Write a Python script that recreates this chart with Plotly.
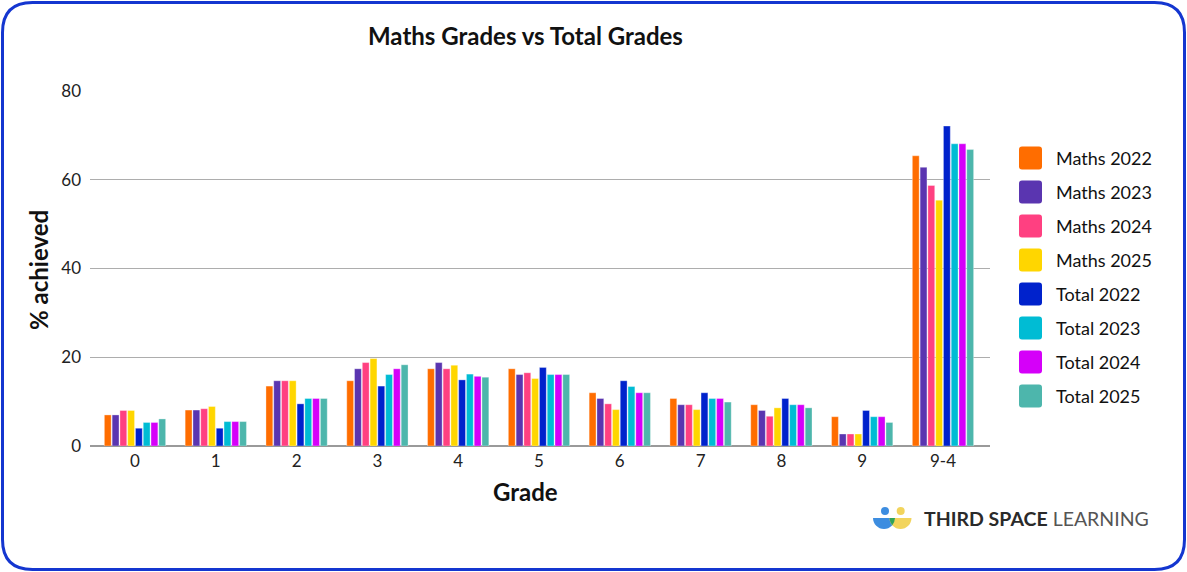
import plotly.graph_objects as go

W, H = 1187, 572

grades = ["0", "1", "2", "3", "4", "5", "6", "7", "8", "9", "9-4"]
series_names = ["Maths 2022", "Maths 2023", "Maths 2024", "Maths 2025",
                "Total 2022", "Total 2023", "Total 2024", "Total 2025"]
maths_2022 = [7.0, 8.1, 13.5, 14.7, 17.4, 17.4, 12.0, 10.7, 9.3, 6.6, 65.4]
maths_2023 = [7.0, 8.1, 14.7, 17.4, 18.8, 16.1, 10.7, 9.3, 8.0, 2.7, 62.8]
maths_2024 = [8.0, 8.4, 14.7, 18.8, 17.4, 16.5, 9.5, 9.3, 6.7, 2.7, 58.7]
maths_2025 = [8.0, 8.9, 14.7, 19.7, 18.2, 15.2, 8.2, 8.2, 8.6, 2.7, 55.4]
total_2022 = [4.0, 4.0, 9.5, 13.5, 14.9, 17.7, 14.7, 12.0, 10.7, 8.0, 72.1]
total_2023 = [5.3, 5.5, 10.7, 16.1, 16.2, 16.1, 13.4, 10.7, 9.3, 6.6, 68.1]
total_2024 = [5.3, 5.5, 10.7, 17.4, 15.7, 16.1, 12.0, 10.7, 9.3, 6.6, 68.1]
total_2025 = [6.1, 5.5, 10.7, 18.3, 15.5, 16.1, 12.0, 9.9, 8.6, 5.3, 66.8]
series_values = [maths_2022, maths_2023, maths_2024, maths_2025,
                 total_2022, total_2023, total_2024, total_2025]
colors = ["#FF6D00", "#5A35B0", "#FF4081", "#FFD600",
          "#0022CC", "#00BCD4", "#D500F9", "#4DB6AC"]
y_ticks = [0, 20, 40, 60, 80]

FONT = "Lato"


def px(x):
    return x / W


def py(y):
    return 1 - y / H


fig = go.Figure()
for name, vals, col in zip(series_names, series_values, colors):
    fig.add_trace(go.Bar(
        x=grades, y=vals, name=name,
        marker=dict(color=col, line=dict(color="rgba(255,255,255,0.55)", width=0.6)),
        showlegend=False,
    ))

# plot area in pixels
PL, PR, PT, PB = 90, 990, 91, 446

fig.update_layout(
    template="none",
    width=W, height=H,
    margin=dict(l=0, r=0, t=0, b=0, pad=0, autoexpand=False),
    paper_bgcolor="white", plot_bgcolor="white",
    barmode="group", bargap=0.23, bargroupgap=0.12,
    font=dict(family=FONT, color="#222222", size=17),
    showlegend=False,
    xaxis=dict(
        domain=[px(PL), px(PR)], range=[-0.557, 10.582], automargin=False,
        showgrid=False, ticks="", tickfont=dict(size=17, color="#222222"),
        showline=False, type="category", zeroline=False, ticklabelstandoff=3,
    ),
    yaxis=dict(
        domain=[py(PB), py(PT)], range=[0, 80], automargin=False,
        tickvals=y_ticks, showgrid=True, gridcolor="#adadad", gridwidth=1,
        zeroline=True, zerolinecolor="#9a9a9a", zerolinewidth=2, showline=False,
        tickfont=dict(size=17, color="#222222"), ticks="", ticklabelstandoff=8,
    ),
)

shapes = []
annotations = []

# Rounded border
x0, y0, x1, y1, r = 2.5, 2.5, 1184.5, 569.5, 30
path = (f"M {px(x0 + r)},{py(y0)} L {px(x1 - r)},{py(y0)} "
        f"Q {px(x1)},{py(y0)} {px(x1)},{py(y0 + r)} "
        f"L {px(x1)},{py(y1 - r)} Q {px(x1)},{py(y1)} {px(x1 - r)},{py(y1)} "
        f"L {px(x0 + r)},{py(y1)} Q {px(x0)},{py(y1)} {px(x0)},{py(y1 - r)} "
        f"L {px(x0)},{py(y0 + r)} Q {px(x0)},{py(y0)} {px(x0 + r)},{py(y0)} Z")
shapes.append(dict(type="path", xref="paper", yref="paper", path=path,
                   line=dict(color="#1436D0", width=3), fillcolor="rgba(0,0,0,0)"))

# Title and axis titles
annotations.append(dict(text="<b>Maths Grades vs Total Grades</b>", x=px(525), y=py(36),
                        xref="paper", yref="paper", showarrow=False,
                        font=dict(size=24, color="#111111", family=FONT),
                        xanchor="center", yanchor="middle"))
annotations.append(dict(text="<b>% achieved</b>", x=px(38), y=py(270),
                        xref="paper", yref="paper", showarrow=False, textangle=-90,
                        font=dict(size=24, color="#111111", family=FONT),
                        xanchor="center", yanchor="middle"))
annotations.append(dict(text="<b>Grade</b>", x=px(525), y=py(491),
                        xref="paper", yref="paper", showarrow=False,
                        font=dict(size=24, color="#111111", family=FONT),
                        xanchor="center", yanchor="middle"))

# Manual legend
LX, LY0, DY, S = 1019, 158, 34, 23
for i, (name, col) in enumerate(zip(series_names, colors)):
    cy = LY0 + i * DY
    a, b = LX, LX + S
    t, bt = cy - S / 2, cy + S / 2
    rr = 3
    p = (f"M {px(a + rr)},{py(t)} L {px(b - rr)},{py(t)} Q {px(b)},{py(t)} {px(b)},{py(t + rr)} "
         f"L {px(b)},{py(bt - rr)} Q {px(b)},{py(bt)} {px(b - rr)},{py(bt)} "
         f"L {px(a + rr)},{py(bt)} Q {px(a)},{py(bt)} {px(a)},{py(bt - rr)} "
         f"L {px(a)},{py(t + rr)} Q {px(a)},{py(t)} {px(a + rr)},{py(t)} Z")
    shapes.append(dict(type="path", xref="paper", yref="paper", path=p,
                       fillcolor=col, line=dict(width=0)))
    annotations.append(dict(text=name, x=px(1054), y=py(cy), xref="paper", yref="paper",
                            showarrow=False, xanchor="left", yanchor="middle",
                            font=dict(size=18, color="#111111", family=FONT)))


# Logo
def half_disc(cx, cy, rad):
    k = 0.5523 * rad
    return (f"M {px(cx - rad)},{py(cy)} L {px(cx + rad)},{py(cy)} "
            f"C {px(cx + rad)},{py(cy + k)} {px(cx + k)},{py(cy + rad)} {px(cx)},{py(cy + rad)} "
            f"C {px(cx - k)},{py(cy + rad)} {px(cx - rad)},{py(cy + k)} {px(cx - rad)},{py(cy)} Z")


shapes.append(dict(type="path", xref="paper", yref="paper", path=half_disc(884, 518, 11),
                   fillcolor="#3D8DE0", line=dict(width=0)))
shapes.append(dict(type="path", xref="paper", yref="paper", path=half_disc(900.5, 518, 11),
                   fillcolor="#F2D45C", line=dict(width=0)))
lens = (f"M {px(889.5)},{py(518)} L {px(895)},{py(518)} Q {px(894.6)},{py(523)} {px(892.25)},{py(525.3)} "
        f"Q {px(889.9)},{py(523)} {px(889.5)},{py(518)} Z")
shapes.append(dict(type="path", xref="paper", yref="paper", path=lens,
                   fillcolor="#2FA35A", line=dict(width=0)))
for cx, col in [(885, "#3D8DE0"), (900.7, "#F2D45C")]:
    shapes.append(dict(type="circle", xref="paper", yref="paper",
                       x0=px(cx - 4), x1=px(cx + 4), y0=py(507), y1=py(515),
                       fillcolor=col, line=dict(width=0)))
annotations.append(dict(text="<b>THIRD SPACE</b> <span style='color:#555555'>LEARNING</span>",
                        x=px(922), y=py(518), xref="paper", yref="paper", showarrow=False,
                        xanchor="left", yanchor="middle",
                        font=dict(size=19.5, color="#2a2a2a", family=FONT)))

fig.update_layout(shapes=shapes, annotations=annotations)
fig.write_html("out.html", config={"displayModeBar": False},
               post_script="document.body.style.margin='0';")
